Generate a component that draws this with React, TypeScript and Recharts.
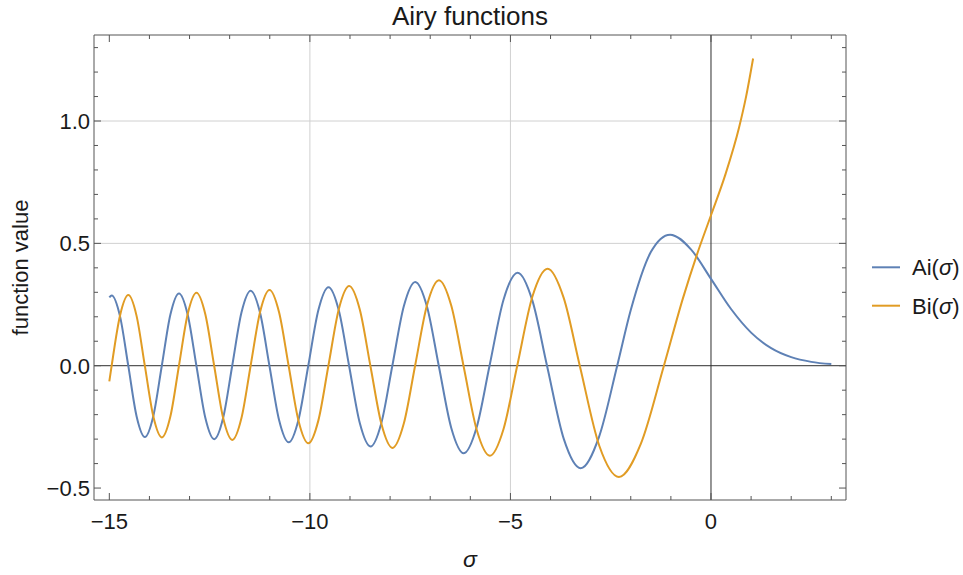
import React from 'react';
import { LineChart, Line, XAxis, YAxis, ReferenceLine, Legend } from 'recharts';

// ---- data ----
const AI_SIGMA = [-15, -14.9406, -14.7342, -14.5278, -14.3208, -14.1137, -13.9026, -13.6915, -13.4771, -13.2627, -13.0458, -12.8288, -12.6068, -12.3848, -12.1604, -11.936, -11.7056, -11.4751, -11.2418, -11.0085, -10.7681, -10.5277, -10.284, -10.0402, -9.7878, -9.5354, -9.2791, -9.0227, -8.7556, -8.4885, -8.2163, -7.9441, -7.6582, -7.3722, -7.0795, -6.7867, -6.475, -6.1633, -5.842, -5.5206, -5.1704, -4.8201, -4.454, -4.0879, -3.668, -3.2482, -2.7932, -2.3381, -2, -1.5, -1.0188, -0.5, 0, 0.5, 1, 1.5, 2, 2.5, 3];
const AI_VALUES = [0.2794, 0.287, 0.2026, 0, -0.2062, -0.2911, -0.2054, 0, 0.2095, 0.2956, 0.2086, 0, -0.2131, -0.3007, -0.2121, 0, 0.2173, 0.3065, 0.2162, 0, -0.2221, -0.3132, -0.2208, 0, 0.2277, 0.321, 0.2263, 0, -0.2346, -0.3305, -0.2328, 0, 0.2431, 0.3423, 0.241, 0, -0.2544, -0.3579, -0.2517, 0, 0.2709, 0.3804, 0.2668, 0, -0.3001, -0.419, -0.2916, 0, 0.2274, 0.4643, 0.5357, 0.4757, 0.355, 0.2317, 0.1353, 0.0717, 0.0349, 0.0157, 0.0066];

const BI_SIGMA = [-15, -14.9418, -14.7341, -14.5264, -14.3207, -14.115, -13.9025, -13.6899, -13.477, -13.2641, -13.0457, -12.8273, -12.6069, -12.3864, -12.1604, -11.9343, -11.7057, -11.477, -11.2417, -11.0065, -10.7682, -10.5299, -10.2838, -10.0377, -9.788, -9.5382, -9.2789, -9.0196, -8.7558, -8.4919, -8.2161, -7.9402, -7.6585, -7.3768, -7.079, -6.7813, -6.4756, -6.1699, -5.8411, -5.5124, -5.1716, -4.8307, -4.452, -4.0732, -3.6721, -3.2711, -2.7828, -2.2944, -1.75, -1.1737, -0.7, -0.35, 0, 0.35, 0.7, 0.875, 1.05];
const BI_VALUES = [-0.0642, 0, 0.2044, 0.2885, 0.2036, 0, -0.2075, -0.2929, -0.2067, 0, 0.2113, 0.2981, 0.2103, 0, -0.2151, -0.3035, -0.2141, 0, 0.2196, 0.3097, 0.2184, 0, -0.2247, -0.3169, -0.2234, 0, 0.2309, 0.3255, 0.2294, 0, -0.2385, -0.336, -0.2366, 0, 0.2483, 0.3495, 0.2459, 0, -0.2618, -0.368, -0.2586, 0, 0.283, 0.3965, 0.2773, 0, -0.3282, -0.4549, -0.3195, 0, 0.2753, 0.4542, 0.6149, 0.7768, 0.9733, 1.0996, 1.2556];

const SERIES_NAMES = ['Ai(σ)', 'Bi(σ)'];
const X_TICKS = [-15, -14, -13, -12, -11, -10, -9, -8, -7, -6, -5, -4, -3, -2, -1, 0, 1, 2, 3];
const Y_TICKS = [-0.5, -0.4, -0.3, -0.2, -0.1, 0, 0.1, 0.2, 0.3, 0.4, 0.5, 0.6, 0.7, 0.8, 0.9, 1.0, 1.1, 1.2, 1.3];
const GRID_X = [-10, -5];
const GRID_Y = [0.5, 1.0];
const X_DOMAIN: [number, number] = [-15.382, 3.366];
const Y_DOMAIN: [number, number] = [-0.5488, 1.3515];

const aiData = AI_SIGMA.map((x, i) => ({ x, y: AI_VALUES[i] }));
const biData = BI_SIGMA.map((x, i) => ({ x, y: BI_VALUES[i] }));

// ---- styles ----
const FONT = '"Liberation Sans", Arial, Helvetica, sans-serif';
const FRAME = '#555555';
const TEXT = '#1a1a1a';
const GRID = '#d0d0d0';
const AXIS0 = '#2e2e2e';
const BLUE = '#5e81b5';
const ORANGE = '#e19c24';
const FS = 22;

const isMajorX = (v: number) => Math.abs(v / 5 - Math.round(v / 5)) < 1e-6;
const isMajorY = (v: number) => Math.abs(v * 2 - Math.round(v * 2)) < 1e-6;
const fmtX = (v: number) => (v < 0 ? '\u2212' + Math.abs(v) : String(v));
const fmtY = (v: number) => (v < 0 ? '\u2212' : '') + Math.abs(v).toFixed(1);

const BottomTick = (p: any) => {
  const { x, y, payload } = p;
  const v = Number(payload.value);
  const major = isMajorX(v);
  return (
    <g>
      <line x1={x} x2={x} y1={y} y2={y - (major ? 7 : 4)} stroke={FRAME} strokeWidth={1} />
      {major && (
        <text x={x} y={y + 29} textAnchor="middle" fontFamily={FONT} fontSize={FS} fill={TEXT}>
          {fmtX(v)}
        </text>
      )}
    </g>
  );
};

const TopTick = (p: any) => {
  const { x, y, payload } = p;
  const major = isMajorX(Number(payload.value));
  return <line x1={x} x2={x} y1={y} y2={y + (major ? 7 : 4)} stroke={FRAME} strokeWidth={1} />;
};

const LeftTick = (p: any) => {
  const { x, y, payload } = p;
  const v = Number(payload.value);
  const major = isMajorY(v);
  return (
    <g>
      <line x1={x} x2={x + (major ? 7 : 4)} y1={y} y2={y} stroke={FRAME} strokeWidth={1} />
      {major && (
        <text x={x - 4} y={y + 8} textAnchor="end" fontFamily={FONT} fontSize={FS} fill={TEXT}>
          {fmtY(v)}
        </text>
      )}
    </g>
  );
};

const RightTick = (p: any) => {
  const { x, y, payload } = p;
  const major = isMajorY(Number(payload.value));
  return <line x1={x} x2={x - (major ? 7 : 4)} y1={y} y2={y} stroke={FRAME} strokeWidth={1} />;
};

const TitleLabel = (p: any) => {
  const vb = p.viewBox || { x: 94, y: 34, width: 752, height: 1 };
  return (
    <text x={vb.x + vb.width / 2} y={vb.y - 9} textAnchor="middle" fontFamily={FONT} fontSize={26} fill={TEXT}>
      Airy functions
    </text>
  );
};

const XLabel = (p: any) => {
  const vb = p.viewBox || { x: 94, y: 500, width: 752, height: 75 };
  return (
    <text x={vb.x + vb.width / 2} y={vb.y + 67} textAnchor="middle" fontFamily={FONT} fontSize={23} fontStyle="italic" fill={TEXT}>
      σ
    </text>
  );
};

const YLabel = (p: any) => {
  const vb = p.viewBox || { x: 0, y: 35, width: 94, height: 465 };
  const cx = vb.x + 28;
  const cy = vb.y + vb.height / 2;
  return (
    <text x={cx} y={cy} transform={`rotate(-90, ${cx}, ${cy})`} textAnchor="middle" fontFamily={FONT} fontSize={FS} fill={TEXT}>
      function value
    </text>
  );
};

const renderLegend = (props: any) => {
  const payload = props.payload || [];
  return (
    <svg width={103} height={90} style={{ display: 'block', overflow: 'visible' }}>
      {payload.map((it: any, i: number) => {
        const y = 27.3 + i * 38.4;
        const name = String(it.value);
        const parts = name.split('σ');
        return (
          <g key={i}>
            <line x1={12} x2={40} y1={y} y2={y} stroke={it.color} strokeWidth={2} />
            <text x={52} y={y + 8} fontFamily={FONT} fontSize={FS} fill={TEXT}>
              {parts[0]}
              <tspan fontStyle="italic">σ</tspan>
              {parts[1]}
            </text>
          </g>
        );
      })}
    </svg>
  );
};

export default function App() {
  return (
    <div style={{ position: 'absolute', left: 0, top: 0, width: 963, height: 575, background: '#fff' }}>
      <LineChart width={963} height={575} margin={{ top: 34, right: 116, bottom: 0, left: 0 }}>
        <XAxis
          xAxisId="b"
          type="number"
          dataKey="x"
          domain={X_DOMAIN}
          ticks={X_TICKS}
          interval={0}
          allowDataOverflow
          height={75}
          tickSize={0}
          tickMargin={0}
          tickLine={false}
          axisLine={{ stroke: FRAME, strokeWidth: 1 }}
          tick={BottomTick}
          label={{ content: XLabel }}
        />
        <XAxis
          xAxisId="t"
          orientation="top"
          type="number"
          dataKey="x"
          domain={X_DOMAIN}
          ticks={X_TICKS}
          interval={0}
          allowDataOverflow
          height={1}
          tickSize={0}
          tickMargin={0}
          tickLine={false}
          axisLine={{ stroke: FRAME, strokeWidth: 1 }}
          tick={TopTick}
          label={{ content: TitleLabel }}
        />
        <YAxis
          yAxisId="l"
          type="number"
          domain={Y_DOMAIN}
          ticks={Y_TICKS}
          interval={0}
          allowDataOverflow
          width={94}
          tickSize={0}
          tickMargin={0}
          tickLine={false}
          axisLine={{ stroke: FRAME, strokeWidth: 1 }}
          tick={LeftTick}
          label={{ content: YLabel }}
        />
        <YAxis
          yAxisId="r"
          orientation="right"
          type="number"
          domain={Y_DOMAIN}
          ticks={Y_TICKS}
          interval={0}
          allowDataOverflow
          width={1}
          tickSize={0}
          tickMargin={0}
          tickLine={false}
          axisLine={{ stroke: FRAME, strokeWidth: 1 }}
          tick={RightTick}
        />
        {GRID_X.map((g) => (
          <ReferenceLine key={'gx' + g} x={g} xAxisId="b" yAxisId="l" stroke={GRID} strokeWidth={1} />
        ))}
        {GRID_Y.map((g) => (
          <ReferenceLine key={'gy' + g} y={g} xAxisId="b" yAxisId="l" stroke={GRID} strokeWidth={1} />
        ))}
        <ReferenceLine x={0} xAxisId="b" yAxisId="l" stroke={AXIS0} strokeWidth={1} />
        <ReferenceLine y={0} xAxisId="b" yAxisId="l" stroke={AXIS0} strokeWidth={1} />
        <Line
          xAxisId="b"
          yAxisId="l"
          data={aiData}
          dataKey="y"
          name={SERIES_NAMES[0]}
          type="monotoneX"
          stroke={BLUE}
          strokeWidth={2}
          dot={false}
          activeDot={false}
          isAnimationActive={false}
        />
        <Line
          xAxisId="b"
          yAxisId="l"
          data={biData}
          dataKey="y"
          name={SERIES_NAMES[1]}
          type="monotoneX"
          stroke={ORANGE}
          strokeWidth={2}
          dot={false}
          activeDot={false}
          isAnimationActive={false}
        />
        <Legend
          content={renderLegend}
          layout="vertical"
          align="center"
          verticalAlign="middle"
          wrapperStyle={{ left: 860, top: 240, width: 103, height: 90 }}
        />
      </LineChart>
    </div>
  );
}
